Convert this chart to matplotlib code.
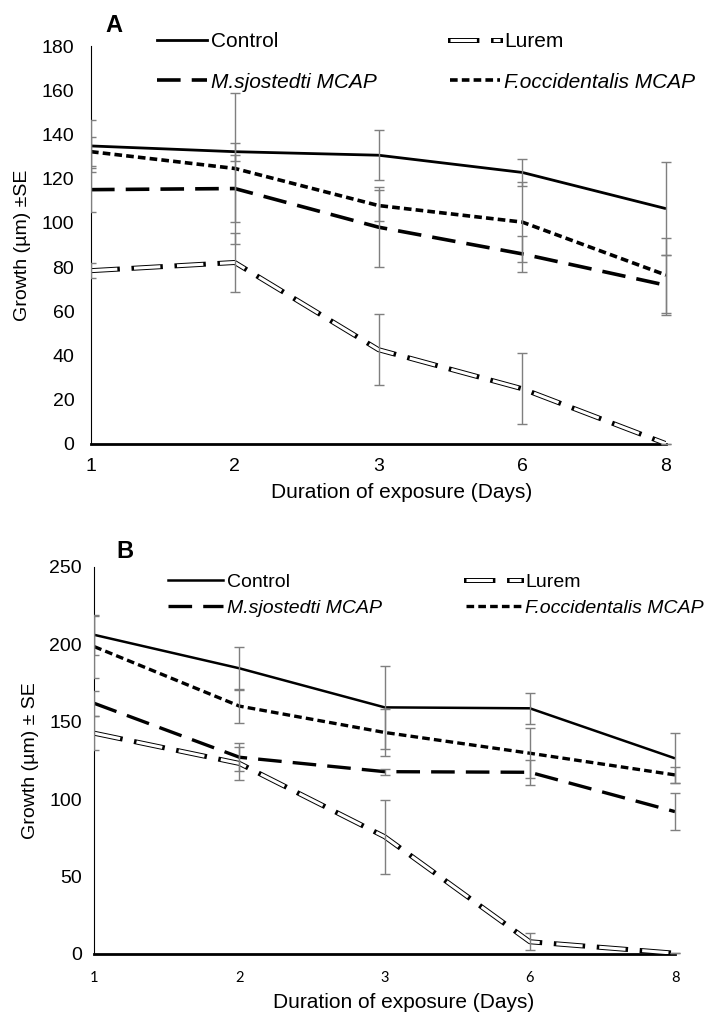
from matplotlib import pyplot as plt
from matplotlib import patheffects as pe
from matplotlib.lines import Line2D
from matplotlib.patches import Rectangle

plt.rcParams['lines.scale_dashes'] = False

days = ['1', '2', '3', '6', '8']
series = ['Control', 'M.sjostedti MCAP', 'Lurem', 'F.occidentalis MCAP']

# panel A
a_control = [134.9, 132.3, 130.7, 122.9, 106.5]
a_control_se = [11.7, 4.0, 11.4, 6.3, 21.0]
a_msjo = [115.1, 115.6, 98.1, 86.0, 71.8]
a_msjo_se = [10.0, 15.0, 18.0, 8.0, 13.5]
a_lurem = [78.4, 82.1, 42.6, 24.9, 0.0]
a_lurem_se = [3.3, 13.5, 16.0, 16.0, 0.0]
a_focc = [132.3, 124.7, 107.9, 100.4, 76.4]
a_focc_se = [6.7, 34.0, 7.2, 18.0, 17.0]

# panel B
b_control = [206.0, 184.4, 159.2, 158.6, 126.3]
b_control_se = [13.0, 14.0, 27.0, 10.0, 16.2]
b_msjo = [161.8, 127.0, 117.7, 117.3, 91.9]
b_msjo_se = [8.0, 9.0, 2.0, 8.0, 12.0]
b_lurem = [142.5, 123.0, 75.7, 7.9, 0.5]
b_lurem_se = [11.0, 10.5, 24.0, 5.5, 0.0]
b_focc = [198.4, 160.0, 143.0, 129.6, 115.6]
b_focc_se = [20.0, 11.0, 15.0, 16.0, 5.0]

FONT = ['Liberation Sans', 'DejaVu Sans']
W, H = 709, 1016


def styles(lw):
    # matplotlib kwargs for each series, same order as `series`
    lurem_fx = [pe.withStroke(linewidth=3.6, foreground='black', capstyle='projecting')]
    return [
        dict(color='black', lw=lw, ls='-'),
        dict(color='black', lw=lw + 0.6, dashes=(17, 8)),
        dict(color='white', lw=2.2, dashes=(19, 12), path_effects=lurem_fx),
        dict(color='black', lw=lw + 0.6, dashes=(5.5, 3)),
    ]


def panel(fig, rect, values, errors, ymax, ystep, letter, letter_xy, leg_x, leg_y, leg_gap,
          leg_size, ylabel, xtick_font, xtick_size, ytick_pad, xtick_pad, xlabel_xy,
          handle_len, lw):
    ax = fig.add_axes(rect)
    x = list(range(len(days)))
    st = styles(lw)
    for vals, s in zip(values, st):
        ax.plot(x, vals, solid_capstyle='butt', dash_capstyle='butt', zorder=2, **s)

    # caps at the last day stick out past the plot edge, like in Excel
    clip = Rectangle((0, -0.05), 1.1, 1.2, transform=ax.transAxes, visible=False)
    ax.add_patch(clip)
    for vals, err in zip(values, errors):
        eb = ax.errorbar(x, vals, yerr=err, fmt='none', ecolor='#7f7f7f', elinewidth=1,
                         capsize=3.5, capthick=1, zorder=3)
        for art in eb.get_children():
            art.set_clip_path(clip)

    ax.set_xlim(0, len(days) - 1)
    ax.set_ylim(0, ymax)
    ax.set_yticks(range(0, ymax + 1, ystep))
    ax.set_xticks(x)
    ax.set_xticklabels(days, family=xtick_font, fontsize=xtick_size)
    for t in ax.get_yticklabels():
        t.set_family(FONT)
        t.set_fontsize(14)
    ax.tick_params(axis='y', length=0, pad=ytick_pad)
    ax.tick_params(axis='x', length=0, pad=xtick_pad)
    ax.spines['top'].set_visible(False)
    ax.spines['right'].set_visible(False)
    ax.spines['left'].set_linewidth(0.8)
    ax.spines['bottom'].set_linewidth(2)
    ax.spines['bottom'].set_zorder(1)
    ax.set_xlabel('Duration of exposure (Days)', family=FONT, fontsize=15)
    ax.xaxis.set_label_coords(*xlabel_xy)
    ax.set_ylabel(ylabel, family=FONT, fontsize=14)

    fig.text(letter_xy[0] / W, 1 - letter_xy[1] / H, letter, family=FONT, fontsize=17,
             fontweight='bold', ha='center', va='center')

    # two legend columns, placed separately so they sit where Excel put them
    for col, idx in enumerate([(0, 1), (2, 3)]):
        handles = [Line2D([], [], **st[i]) for i in idx]
        leg = fig.legend(handles, [series[i] for i in idx], loc='upper left',
                         bbox_to_anchor=(leg_x[col] / W, 1 - leg_y / H),
                         bbox_transform=fig.transFigure, frameon=False, borderpad=0,
                         borderaxespad=0, handlelength=handle_len, handletextpad=0.2,
                         labelspacing=leg_gap, prop=dict(family=FONT, size=leg_size))
        for t, i in zip(leg.get_texts(), idx):
            if 'MCAP' in series[i]:
                t.set_style('italic')
    return ax


def main():
    fig = plt.figure(figsize=(W / 100, H / 100), dpi=100)

    ax_a = panel(fig, [91 / W, 1 - 443.7 / H, (666 - 91) / W, (443.7 - 46.4) / H],
                 [a_control, a_msjo, a_lurem, a_focc],
                 [a_control_se, a_msjo_se, a_lurem_se, a_focc_se],
                 180, 20, 'A', (114, 26), (157, 450), 32, 1.04, 15,
                 'Growth (µm) ±SE', FONT, 14, 12, 10, (0.541, -0.100), 2.4, 2.0)
    ax_a.yaxis.set_label_coords(-0.105, 0.5)

    ax_b = panel(fig, [94.3 / W, 1 - 954 / H, (675 - 94.3) / W, (954 - 566.7) / H],
                 [b_control, b_msjo, b_lurem, b_focc],
                 [b_control_se, b_msjo_se, b_lurem_se, b_focc_se],
                 250, 50, 'B', (125, 551), (168, 466), 573, 0.43, 14,
                 'Growth (µm) ± SE', ['Lato', 'DejaVu Sans'], 10.5, 9, 12, (0.532, -0.100),
                 2.83, 1.8)
    ax_b.yaxis.set_label_coords(-0.095, 0.5)

    fig.savefig('out.png', dpi=100)


if __name__ == '__main__':
    main()
